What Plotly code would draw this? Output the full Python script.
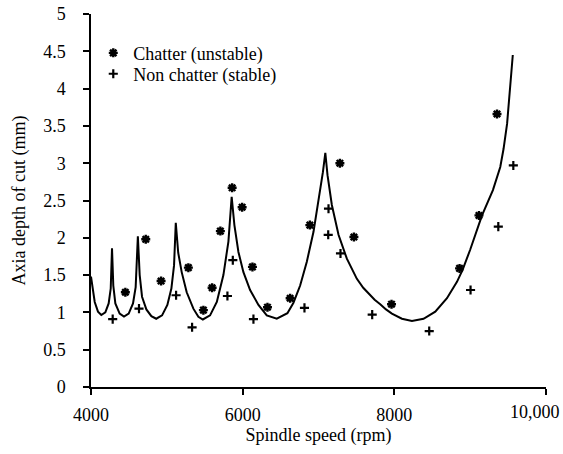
import plotly.graph_objects as go

# Stability lobe boundary (rpm, mm)
lobe_speed = [4000, 4013, 4049, 4092, 4136, 4189, 4233, 4260, 4277, 4294, 4321, 4378, 4435,
              4497, 4554, 4589, 4618, 4642, 4673, 4730, 4796, 4860, 4937, 5007, 5060, 5095,
              5118, 5150, 5196, 5262, 5350, 5416, 5475, 5570, 5659, 5746, 5812, 5855, 5891,
              5944, 6010, 6098, 6208, 6318, 6450, 6590, 6670, 6758, 6846, 6934, 7000, 7058,
              7090, 7119, 7176, 7264, 7374, 7506, 7590, 7670, 7740, 7814, 7890, 7968, 8100,
              8232, 8385, 8540, 8694, 8826, 8900, 9000, 9156, 9300, 9397, 9440, 9487, 9562]
lobe_depth = [1.48, 1.39, 1.14, 1.01, 0.965, 1.00, 1.12, 1.32, 1.86, 1.36, 1.12, 0.985, 0.945,
              0.985, 1.12, 1.34, 2.02, 1.50, 1.21, 1.04, 0.95, 0.915, 0.96, 1.10, 1.32, 1.63,
              2.20, 1.80, 1.54, 1.27, 1.05, 0.94, 0.905, 0.96, 1.14, 1.50, 1.95, 2.55, 2.17,
              1.81, 1.54, 1.30, 1.10, 0.96, 0.915, 0.99, 1.13, 1.36, 1.68, 2.08, 2.48, 2.88,
              3.14, 2.84, 2.44, 2.04, 1.72, 1.45, 1.33, 1.24, 1.17, 1.11, 1.04, 0.985, 0.915,
              0.885, 0.915, 1.01, 1.19, 1.41, 1.57, 1.84, 2.30, 2.64, 2.95, 3.19, 3.53, 4.45]

# Chatter (unstable) test points
chatter_speed = [4453, 4722, 4924, 5284, 5482, 5597, 5706, 5861, 5993, 6129, 6327, 6626,
                 6886, 7282, 7467, 7963, 8860, 9116, 9354]
chatter_depth = [1.27, 1.98, 1.42, 1.60, 1.03, 1.33, 2.09, 2.67, 2.41, 1.61, 1.07, 1.19,
                 2.17, 3.00, 2.01, 1.11, 1.59, 2.30, 3.66]

# Non chatter (stable) test points
stable_speed = [4286, 4633, 5122, 5333, 5799, 5870, 6142, 6815, 7132, 7128, 7290, 7708,
                8460, 9005, 9371, 9569]
stable_depth = [0.91, 1.05, 1.23, 0.80, 1.22, 1.70, 0.91, 1.06, 2.39, 2.04, 1.79, 0.97,
                0.75, 1.30, 2.15, 2.97]

x_tickvals = [4000, 6000, 8000, 10000]
x_ticktext = ["4000", "6000", "8000", ""]
last_x_label = "10,000"
y_tickvals = [0, 0.5, 1, 1.5, 2, 2.5, 3, 3.5, 4, 4.5, 5]
y_ticktext = ["0", "0.5", "1", "1.5", "2", "2.5", "3", "3.5", "4", "4.5", "5"]

FONT = "Liberation Serif"

fig = go.Figure()
fig.add_trace(go.Scatter(x=lobe_speed, y=lobe_depth, mode="lines",
                         line=dict(color="black", width=2), showlegend=False,
                         hoverinfo="skip"))
fig.add_trace(go.Scatter(x=chatter_speed, y=chatter_depth, mode="markers",
                         name="Chatter (unstable)", legend="legend",
                         marker=dict(symbol="asterisk-open", size=7.5, color="black",
                                     line=dict(color="black", width=2.4))))
fig.add_trace(go.Scatter(x=stable_speed, y=stable_depth, mode="markers",
                         name="Non chatter (stable)", legend="legend2",
                         marker=dict(symbol="cross-thin-open", size=6.5, color="black",
                                     line=dict(color="black", width=2.2))))

# last x tick label, shifted left so it stays inside the picture (as in the original)
fig.add_annotation(x=x_tickvals[-1], xref="x", y=0, yref="paper", text=last_x_label,
                   showarrow=False, xanchor="right", yanchor="top",
                   xshift=16, yshift=-13, font=dict(family=FONT, size=18, color="black"))

leg_common = dict(xanchor="left", yanchor="middle", bgcolor="rgba(0,0,0,0)",
                  itemwidth=30, font=dict(family=FONT, size=18, color="black"))

axis_common = dict(showgrid=False, zeroline=False, showline=True, linecolor="black",
                   linewidth=1.5, ticks="outside", ticklen=6, tickwidth=1.5,
                   tickcolor="black", automargin=False,
                   tickfont=dict(family=FONT, size=18, color="black"))

fig.update_layout(
    width=563, height=454,
    margin=dict(l=91, r=17, t=14, b=67),
    paper_bgcolor="white", plot_bgcolor="white",
    font=dict(family=FONT, size=18, color="black"),
    legend=dict(x=0.005, y=0.895, **leg_common),
    legend2=dict(x=0.005, y=0.839, **leg_common),
    xaxis=dict(range=[4000, 10000], tickvals=x_tickvals, ticktext=x_ticktext,
               ticklabelstandoff=5,
               title=dict(text="Spindle speed (rpm)", standoff=3,
                          font=dict(family=FONT, size=18)),
               **axis_common),
    yaxis=dict(range=[0, 5], tickvals=y_tickvals, ticktext=y_ticktext,
               ticklabelstandoff=14,
               title=dict(text="Axia depth of cut (mm)", standoff=13,
                          font=dict(family=FONT, size=18)),
               **axis_common),
)

fig.write_html("out.html", config={"displayModeBar": False},
               post_script="document.body.style.margin='0';document.body.style.overflow='hidden';")
